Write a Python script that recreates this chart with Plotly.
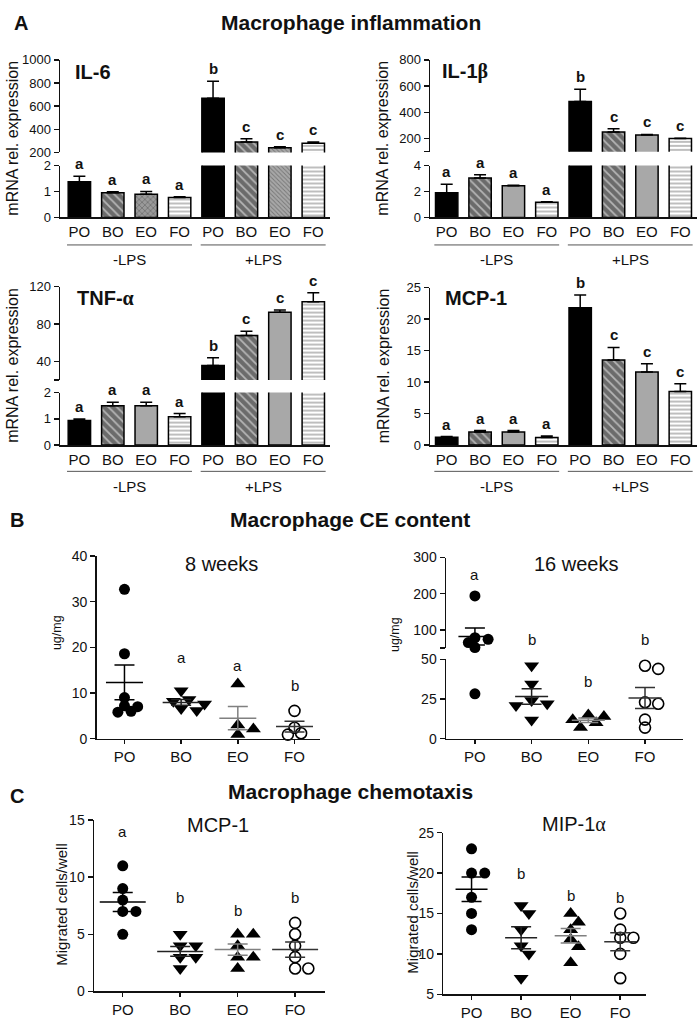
import numpy as np
import plotly.graph_objects as go

W, H = 700, 1024
FONT = "Liberation Sans, Arial, Helvetica, sans-serif"
INK = "#111111"

GROUPS = ["PO", "BO", "EO", "FO"]
LPS_LABELS = ["-LPS", "+LPS"]

# ---------------- Panel A: mRNA rel. expression (mean, SEM); -LPS PO..FO then +LPS PO..FO
il6_mean = [1.37, 0.95, 0.89, 0.77, 668, 291, 240, 279]
il6_sem = [0.22, 0.04, 0.11, 0.03, 148, 28, 8, 12]
il6_sig = ["a", "a", "a", "a", "b", "c", "c", "c"]

il1b_mean = [1.90, 3.04, 2.43, 1.16, 482, 250, 227, 200]
il1b_sem = [0.66, 0.25, 0.05, 0.04, 95, 25, 5, 2]
il1b_sig = ["a", "a", "a", "a", "b", "c", "c", "c"]

tnf_mean = [0.94, 1.50, 1.50, 1.08, 35.5, 67.7, 92.6, 103.9]
tnf_sem = [0.05, 0.13, 0.13, 0.12, 8.5, 4.6, 2.4, 9.5]
tnf_sig = ["a", "a", "a", "a", "b", "c", "c", "c"]

mcp1_mean = [1.25, 2.08, 2.08, 1.20, 21.8, 13.5, 11.6, 8.5]
mcp1_sem = [0.10, 0.22, 0.22, 0.25, 2.0, 2.0, 1.3, 1.24]
mcp1_sig = ["a", "a", "a", "a", "b", "c", "c", "c"]

# ---------------- Panel B: macrophage CE content (ug/mg), individual animals
ce8_po = [32.7, 18.6, 9.0, 7.2, 7.0, 6.0, 5.8]
ce8_bo = [10.5, 8.6, 8.2, 7.6, 6.6, 6.2]
ce8_eo = [12.0, 3.0, 2.1, 0.9]
ce8_fo = [6.1, 2.4, 1.2, 0.9]
ce8_sig = ["a", "a", "a", "b"]

ce16_po = [193.7, 78.0, 73.6, 64.6, 51.0, 28.3]
ce16_bo = [46.0, 34.5, 24.0, 22.0, 21.0, 11.8]
ce16_eo = [15.0, 14.0, 12.0, 10.0, 7.0]
ce16_fo = [46.0, 44.0, 23.0, 22.0, 12.0, 7.0]
ce16_sig = ["a", "b", "b", "b"]

# ---------------- Panel C: macrophage chemotaxis (migrated cells/well)
chem_mcp_po = [11, 9, 8, 7, 7, 5]
chem_mcp_bo = [5, 4, 4, 3, 3, 2]
chem_mcp_eo = [5, 5, 4, 3, 3, 2]
chem_mcp_fo = [6, 5, 4, 3, 2, 2]
chem_mcp_sig = ["a", "b", "b", "b"]

chem_mip_po = [23, 20, 20, 17, 15, 13]
chem_mip_bo = [16, 15, 13, 11, 10, 7]
chem_mip_eo = [15, 13.9, 13, 11.8, 10.9, 8.9]
chem_mip_fo = [15, 13, 12, 12, 10, 7]
chem_mip_sig = ["a", "b", "b", "b"]

# ---------------------------------------------------------------------------
fig = go.Figure()
layout = {}
annotations = []
shapes = []
counter = {"x": 0, "y": 0}


def fx(px):
    return px / W


def fy(py):
    return 1 - py / H


def axname(letter, n):
    return f"{letter}axis" if n == 1 else f"{letter}axis{n}"


def axref(letter, n):
    return letter if n == 1 else f"{letter}{n}"


def make_panel(xdom, xrng, segs, xticks, xticklen, tick_size):
    """segs: list of (ydom_px(top,bottom), yrange, tickvals, ticktext), lowest segment first"""
    counter["x"] += 1
    nx = counter["x"]
    ys = []
    for ydom, yrng, tv, tt in segs:
        counter["y"] += 1
        ny = counter["y"]
        layout[axname("y", ny)] = dict(
            domain=[fy(ydom[1]), fy(ydom[0])], range=yrng, anchor=axref("x", nx),
            tickvals=tv, ticktext=tt, showline=True, linecolor=INK, linewidth=1.5,
            ticks="outside", ticklen=5, tickwidth=1.5, tickcolor=INK, showgrid=False,
            zeroline=False, tickfont=dict(size=tick_size, family=FONT, color=INK),
            fixedrange=True)
        ys.append(ny)
    layout[axname("x", nx)] = dict(
        domain=[fx(xdom[0]), fx(xdom[1])], range=xrng, anchor=axref("y", ys[0]),
        tickvals=list(range(len(xticks))), ticktext=xticks, showline=True, linewidth=1.5,
        linecolor=INK, ticks="outside" if xticklen else "", ticklen=xticklen, tickwidth=1.5,
        tickcolor=INK, showgrid=False, zeroline=False,
        tickfont=dict(size=15, family=FONT, color=INK), fixedrange=True)
    return axref("x", nx), [axref("y", n) for n in ys]


def text_ann(text, x, y, size, bold=False, angle=0, xanchor="center", yanchor="middle"):
    annotations.append(dict(
        text=f"<b>{text}</b>" if bold else text, x=fx(x), y=fy(y), xref="paper", yref="paper",
        showarrow=False, xanchor=xanchor, yanchor=yanchor, textangle=angle,
        font=dict(size=size, family=FONT, color=INK)))


GREEK = "<span style='font-family:Liberation Serif'>{}</span>"

# default bar style per oil
BAR_STYLE = {
    "PO": dict(color="#000000", shape="", fg="#000000", size=6, sol=0.3),
    "BO": dict(color="#6b6b6b", shape="\\", fg="#000000", size=6, sol=0.3),
    "EO": dict(color="#a8a8a8", shape="", fg="#000000", size=6, sol=0.3),
    "FO": dict(color="#ffffff", shape="-", fg="#8c8c8c", size=4, sol=0.35),
}


def bar_panel(xdom, xrng, segs, means, sems, sig, title, title_xy, ytitle_x, lps_y,
              overrides=None):
    xr, yrs = make_panel(xdom, xrng, segs, GROUPS * 2, 0, 13)
    styles = [dict(BAR_STYLE[g]) for g in GROUPS * 2]
    if overrides:
        for i, st in overrides.items():
            styles[i].update(st)
    for seg, yr in zip(segs, yrs):
        lo, hi = seg[1]
        top_here = [i for i in range(8) if lo < means[i] <= hi]
        through = [i for i in range(8) if means[i] > hi]
        for idx, with_err in ((top_here, True), (through, False)):
            if not idx:
                continue
            tr = go.Bar(
                x=idx, y=[means[i] for i in idx], width=0.67, xaxis=xr, yaxis=yr,
                marker=dict(
                    color=[styles[i]["color"] for i in idx],
                    line=dict(color="#000000", width=1.5),
                    pattern=dict(shape=[styles[i]["shape"] for i in idx],
                                 fgcolor=[styles[i]["fg"] for i in idx],
                                 size=[styles[i]["size"] for i in idx],
                                 solidity=[styles[i]["sol"] for i in idx],
                                 fillmode="overlay")),
                showlegend=False, hoverinfo="skip")
            if with_err:
                tr.error_y = dict(type="data", symmetric=False, array=[sems[i] for i in idx],
                                  arrayminus=[0] * len(idx), color="#000000", thickness=1.5,
                                  width=6)
            fig.add_trace(tr)
    # significance letters just above the error bar
    for i in range(8):
        top = means[i] + sems[i]
        yr = yrs[-1]
        for seg, r in zip(segs, yrs):
            if seg[1][0] <= top <= seg[1][1]:
                yr = r
                break
        annotations.append(dict(text=f"<b>{sig[i]}</b>", x=i, y=top, xref=xr, yref=yr,
                                showarrow=False, yanchor="bottom", yshift=2,
                                font=dict(size=15, family=FONT, color=INK)))
    # -LPS / +LPS brackets
    for k, lab in enumerate(LPS_LABELS):
        c0, c1 = 4 * k, 4 * k + 3
        shapes.append(dict(type="line", xref=xr, yref="paper", x0=c0 - 0.37, x1=c1 + 0.37,
                           y0=fy(lps_y), y1=fy(lps_y), line=dict(color="#555555", width=1)))
        annotations.append(dict(text=lab, x=(c0 + c1) / 2, y=fy(lps_y + 15), xref=xr,
                                yref="paper", showarrow=False, yanchor="middle",
                                font=dict(size=15, family=FONT, color=INK)))
    text_ann(title, title_xy[0], title_xy[1], 20, bold=True, xanchor="left")
    ymid = (segs[-1][0][0] + segs[0][0][1]) / 2
    text_ann("mRNA rel. expression", ytitle_x, ymid, 16, angle=-90)


DOT_SYMBOL = {"PO": "circle", "BO": "triangle-down", "EO": "triangle-up", "FO": "circle-open"}
DOT_SIZE = {"PO": 11, "BO": 13, "EO": 13, "FO": 11}
MEAN_COLOR = {"PO": "#000000", "BO": "#222222", "EO": "#808080", "FO": "#333333"}


def dot_panel(xdom, xrng, segs, groups_data, sig, sig_levels, title, title_xy, ytitle,
              ytitle_xy, ytitle_size, mean_len):
    xr, yrs = make_panel(xdom, xrng, segs, GROUPS, 4, 14)
    px_per_cat = (xdom[1] - xdom[0]) / (xrng[1] - xrng[0])

    def v2px(v):
        for (ydom, (lo, hi), _, _) in segs:
            if lo <= v <= hi:
                return ydom[1] - (v - lo) / (hi - lo) * (ydom[1] - ydom[0])
        return segs[-1][0][0]

    def seg_of(v):
        for seg, yr in zip(segs, yrs):
            if seg[1][0] <= v <= seg[1][1]:
                return yr
        return yrs[-1]

    for ci, (g, vals) in enumerate(zip(GROUPS, groups_data)):
        d = DOT_SIZE[g]
        placed = []
        xs = []
        cands = [0.0]
        for j in range(1, 14):
            cands += [j * 0.6 * d, -j * 0.6 * d]
        for v in vals:
            ypx = v2px(v)
            off = 0.0
            for off in cands:
                if all((off - a) ** 2 + (ypx - b) ** 2 >= (0.72 * d) ** 2 for a, b in placed):
                    break
            placed.append((off, ypx))
            xs.append(ci + off / px_per_cat)
        open_marker = g == "FO"
        for yr in yrs:
            idx = [k for k, v in enumerate(vals) if seg_of(v) == yr]
            if not idx:
                continue
            fig.add_trace(go.Scatter(
                x=[xs[k] for k in idx], y=[vals[k] for k in idx], mode="markers",
                xaxis=xr, yaxis=yr, cliponaxis=False, showlegend=False, hoverinfo="skip",
                marker=dict(symbol=DOT_SYMBOL[g], size=d, color="#000000",
                            line=dict(width=1.6 if open_marker else 0, color="#000000"))))
        m = float(np.mean(vals))
        s = float(np.std(vals, ddof=1) / np.sqrt(len(vals)))
        col = MEAN_COLOR[g]
        fig.add_trace(go.Scatter(
            x=[ci], y=[m], mode="markers", xaxis=xr, yaxis=seg_of(m), cliponaxis=False,
            showlegend=False, hoverinfo="skip",
            marker=dict(symbol="line-ew", size=mean_len / 1.4, line=dict(width=1.5, color=col)),
            error_y=dict(type="data", array=[s], color=col, thickness=1.5, width=10)))
        annotations.append(dict(text=sig[ci], x=ci, y=sig_levels[ci], xref=xr,
                                yref=seg_of(sig_levels[ci]), showarrow=False,
                                yanchor="middle", font=dict(size=15, family=FONT, color=INK)))
    text_ann(title, title_xy[0], title_xy[1], 20)
    text_ann(ytitle, ytitle_xy[0], ytitle_xy[1], ytitle_size, angle=-90)


# ---------------- Section headers
text_ann("A", 12, 15, 20, bold=True, xanchor="left")
text_ann("Macrophage inflammation", 351, 15, 21, bold=True)
text_ann("B", 8, 520, 20, bold=True, xanchor="left")
text_ann("Macrophage CE content", 350, 520, 21, bold=True)
text_ann("C", 8, 800, 20, bold=True, xanchor="left")
text_ann("Macrophage chemotaxis", 350, 796, 21, bold=True)

# ---------------- Panel A
bar_panel([60, 330], [-0.58, 7.5],
          [((160, 212.7), [0, 2], [0, 1, 2], ["0", "1", "2"]),
           ((52.7, 146.7), [200, 1000], [200, 400, 600, 800, 1000],
            ["200", "400", "600", "800", "1000"])],
          il6_mean, il6_sem, il6_sig, "IL-6", (73, 65), 13, 240.7,
          overrides={2: dict(color="#9a9a9a", shape="x", fg="#000000", size=4, sol=0.35),
                     6: dict(color="#a8a8a8", shape="\\", fg="#555555", size=3, sol=0.3)})

bar_panel([430, 697], [-0.5, 7.5],
          [((160, 212.7), [0, 4], [0, 2, 4], ["0", "2", "4"]),
           ((52.7, 146), [100, 800], [100, 200, 400, 600, 800],
            ["", "200", "400", "600", "800"])],
          il1b_mean, il1b_sem, il1b_sig, "IL-1" + GREEK.format("β"), (440, 65), 383, 240.7)

bar_panel([60, 330], [-0.58, 7.5],
          [((390.7, 444), [0, 2], [0, 1, 2], ["0", "1", "2"]),
           ((283, 378), [20, 120], [20, 40, 80, 120], ["", "40", "80", "120"])],
          tnf_mean, tnf_sem, tnf_sig, "TNF-" + GREEK.format("α"), (75, 295), 13, 470.7)

bar_panel([430, 697], [-0.5, 7.5],
          [((284, 444), [0, 25], [0, 5, 10, 15, 20, 25], ["0", "5", "10", "15", "20", "25"])],
          mcp1_mean, mcp1_sem, mcp1_sig, "MCP-1", (443, 295), 383, 470.7)

# ---------------- Panel B
dot_panel([96.7, 320], [-0.49, 3.45],
          [((556.7, 742.3), [0, 40], [0, 10, 20, 30, 40], ["0", "10", "20", "30", "40"])],
          [ce8_po, ce8_bo, ce8_eo, ce8_fo], ce8_sig, [40.1, 17.7, 16.1, 11.7],
          "8 weeks", (222, 565), "ug/mg", (57, 635), 12.5, 37)

dot_panel([446, 683], [-0.51, 3.67],
          [((661.7, 742.3), [0, 50], [0, 25, 50], ["0", "25", "50"]),
           ((558.3, 650), [50, 300], [50, 100, 200, 300], ["", "100", "200", "300"])],
          [ce16_po, ce16_bo, ce16_eo, ce16_fo], ce16_sig, [254, 73.6, 36.2, 73.6],
          "16 weeks", (576, 565), "ug/mg", (395, 637), 12.5, 33)

# ---------------- Panel C
dot_panel([94, 325], [-0.5, 3.52],
          [((825, 999), [0, 15], [0, 5, 10, 15], ["0", "5", "10", "15"])],
          [chem_mcp_po, chem_mcp_bo, chem_mcp_eo, chem_mcp_fo], chem_mcp_sig,
          [14.0, 8.25, 7.1, 8.25],
          "MCP-1", (218, 830), "Migrated cells/well", (62, 910), 15, 46)

dot_panel([443.3, 646], [-0.57, 3.52],
          [((837.7, 1002), [5, 25], [5, 10, 15, 20, 25], ["5", "10", "15", "20", "25"])],
          [chem_mip_po, chem_mip_bo, chem_mip_eo, chem_mip_fo], chem_mip_sig,
          [27.6, 20.0, 17.2, 17.0],
          "MIP-1" + GREEK.format("α"), (574, 829), "Migrated cells/well", (413, 919), 15, 32)

fig.update_layout(
    width=W, height=H, autosize=False, margin=dict(l=0, r=0, t=0, b=0),
    paper_bgcolor="white", plot_bgcolor="rgba(0,0,0,0)", showlegend=False,
    font=dict(family=FONT, color=INK), annotations=annotations, shapes=shapes,
    bargap=0, **layout)

fig.write_html("out.html", config={"displayModeBar": False, "staticPlot": True},
               post_script="document.body.style.margin='0';")
